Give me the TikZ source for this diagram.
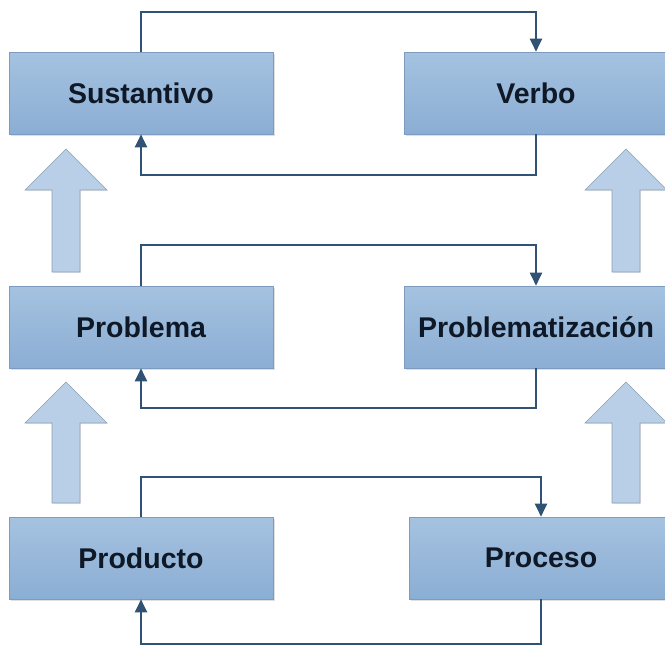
\documentclass[tikz,border=0pt]{standalone}
\usepackage{fontspec}
\setmainfont{Liberation Sans}
\usetikzlibrary{arrows.meta,shadows}
\definecolor{boxtop}{HTML}{A5C2E0}
\definecolor{boxbot}{HTML}{8BAED4}
\definecolor{boxline}{HTML}{7C9BBE}
\definecolor{conn}{HTML}{2F5275}
\definecolor{txt}{HTML}{0E1826}
\definecolor{barfill}{HTML}{B8CFE7}
\definecolor{barline}{HTML}{8E9DB0}
\begin{document}
\begin{tikzpicture}[x=1pt,y=-1pt,
  conceptbox/.style={rectangle, minimum width=264pt, minimum height=82pt,
    top color=boxtop, bottom color=boxbot, draw=boxline, line width=0.6pt,
    drop shadow={shadow xshift=1.5pt, shadow yshift=-1.5pt, opacity=0.25},
    font=\fontsize{28.5}{32}\selectfont\bfseries, text=txt, inner sep=0pt},
  link/.style={draw=conn, line width=2pt, -{Triangle[length=13pt,width=12pt]}},
  bar/.style={fill=barfill, draw=barline, line width=0.6pt,
    drop shadow={shadow xshift=1pt, shadow yshift=-1pt, opacity=0.15}}]
\useasboundingbox (0,0) rectangle (665,646);
\clip (0,0) rectangle (665,646);
\newcommand{\upbar}[3]{% cx, tip y, bottom y
  \path[bar] (#1,#2) -- (#1+41,#2+41) -- (#1+14,#2+41) -- (#1+14,#3)
    -- (#1-14,#3) -- (#1-14,#2+41) -- (#1-41,#2+41) -- cycle;}
% boxes
\node[conceptbox] (sus) at (141,93) {Sustantivo};
\node[conceptbox] (ver) at (536,93) {Verbo};
\node[conceptbox] (prb) at (141,327) {Problema};
\node[conceptbox] (prz) at (536,327) {Problematización};
\node[conceptbox] (pdt) at (141,558) {Producto};
\node[conceptbox] (pcs) at (541,558) {Proceso};
% block arrows
\upbar{66}{149}{272}
\upbar{626}{149}{272}
\upbar{66}{382}{503}
\upbar{626}{382}{503}
% route corners
\coordinate (a1) at (141,12);  \coordinate (a2) at (536,12);
\coordinate (b1) at (536,175); \coordinate (b2) at (141,175);
\coordinate (c1) at (141,245); \coordinate (c2) at (536,245);
\coordinate (d1) at (536,408); \coordinate (d2) at (141,408);
\coordinate (e1) at (141,477); \coordinate (e2) at (541,477);
\coordinate (f1) at (541,644); \coordinate (f2) at (141,644);
% connectors
\draw[link] (sus.north) -- (a1) -- (a2) -- (ver.north);
\draw[link] (ver.south) -- (b1) -- (b2) -- (sus.south);
\draw[link] (prb.north) -- (c1) -- (c2) -- (prz.north);
\draw[link] (prz.south) -- (d1) -- (d2) -- (prb.south);
\draw[link] (pdt.north) -- (e1) -- (e2) -- (pcs.north);
\draw[link] (pcs.south) -- (f1) -- (f2) -- (pdt.south);
\end{tikzpicture}
\end{document}
